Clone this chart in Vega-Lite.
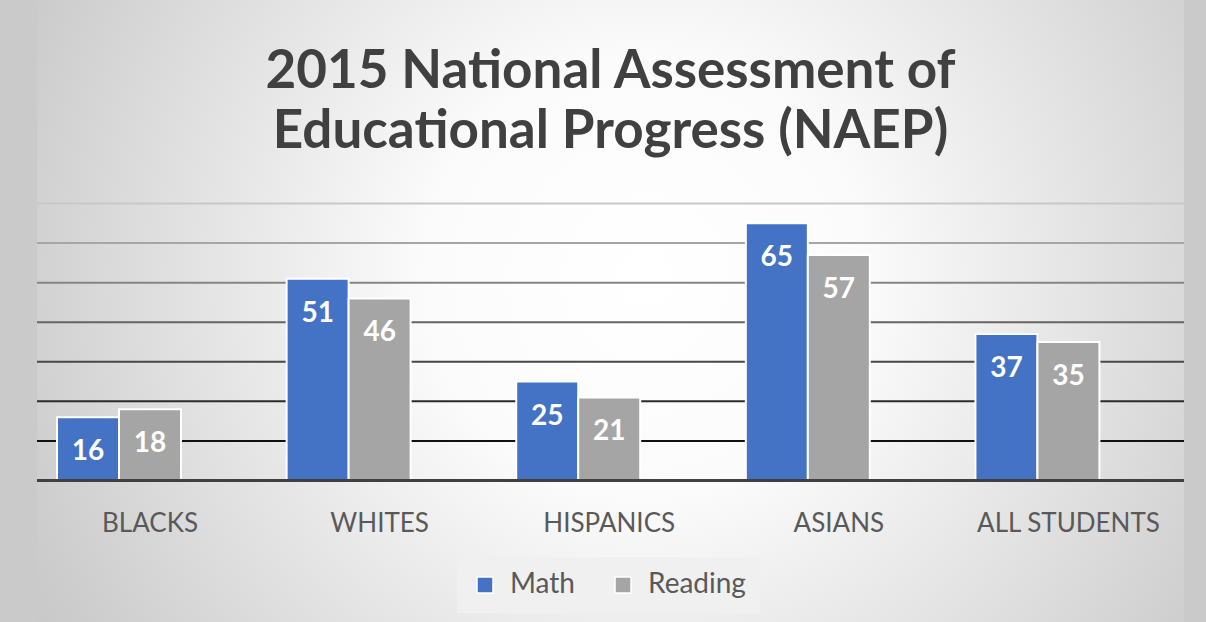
{
  "$schema": "https://vega.github.io/schema/vega-lite/v6.json",
  "width": 1147,
  "height": 622,
  "autosize": {"type": "none"},
  "padding": {"left": 37, "right": 22, "top": 0, "bottom": 0},
  "background": "#cacaca",
  "title": {
    "text": ["2015 National Assessment of", "Educational Progress (NAEP)"],
    "anchor": "middle",
    "frame": "group",
    "offset": -159,
    "font": "Lato",
    "fontSize": 53,
    "fontWeight": "bold",
    "color": "#404040",
    "lineHeight": 60
  },
  "datasets": {
    "scores": [
      {"group": "BLACKS", "subject": "Math", "value": 16},
      {"group": "BLACKS", "subject": "Reading", "value": 18},
      {"group": "WHITES", "subject": "Math", "value": 51},
      {"group": "WHITES", "subject": "Reading", "value": 46},
      {"group": "HISPANICS", "subject": "Math", "value": 25},
      {"group": "HISPANICS", "subject": "Reading", "value": 21},
      {"group": "ASIANS", "subject": "Math", "value": 65},
      {"group": "ASIANS", "subject": "Reading", "value": 57},
      {"group": "ALL STUDENTS", "subject": "Math", "value": 37},
      {"group": "ALL STUDENTS", "subject": "Reading", "value": 35}
    ],
    "grid": [{"g": 10}, {"g": 20}, {"g": 30}, {"g": 40}, {"g": 50}, {"g": 60}, {"g": 70}],
    "base": [{"g": 0}]
  },
  "layer": [
    {
      "data": {"name": "grid"},
      "mark": {"type": "rule", "strokeWidth": 2},
      "encoding": {
        "y": {"field": "g", "type": "quantitative", "axis": null, "scale": {"domain": [-35.76, 121.43], "nice": false, "zero": false}},
        "stroke": {"field": "g", "type": "quantitative", "legend": null, "scale": {"domain": [10, 70], "range": ["#111111", "#c8c8c8"]}}
      }
    },
    {
      "data": {"name": "scores"},
      "mark": {"type": "bar", "stroke": "white", "strokeWidth": 2},
      "encoding": {
        "x": {
          "field": "group", "type": "nominal", "sort": null,
          "scale": {"paddingInner": 0.19, "paddingOuter": 0.0928, "align": 0.47},
          "axis": {
            "orient": "bottom", "offset": -113, "domain": false, "ticks": false, "tickSize": 0,
            "labelPadding": 1, "title": null, "labelAngle": 0, "grid": false, "labelLimit": 0,
            "labelFont": "Lato", "labelFontSize": 26, "labelColor": "#595959"
          }
        },
        "xOffset": {"field": "subject", "type": "nominal", "scale": {"domain": ["Math", "Reading", "blank"], "paddingInner": 0, "paddingOuter": 0}},
        "y": {"field": "value", "type": "quantitative", "axis": null, "scale": {"domain": [-35.76, 121.43], "nice": false, "zero": false}},
        "color": {
          "field": "subject", "type": "nominal",
          "scale": {"domain": ["Math", "Reading"], "range": ["#4472c4", "#a5a5a5"]},
          "legend": {
            "title": null, "orient": "none", "direction": "horizontal",
            "legendX": 420, "legendY": 557,
            "fillColor": "#f0f0f0", "padding": 14,
            "symbolType": "square", "symbolSize": 256, "symbolStrokeColor": "white", "symbolStrokeWidth": 1.5,
            "labelFont": "Lato", "labelFontSize": 28, "labelColor": "#595959", "labelOffset": 11,
            "columnPadding": 34
          }
        }
      }
    },
    {
      "data": {"name": "scores"},
      "mark": {"type": "text", "font": "Lato", "fontSize": 28, "fontWeight": "bold", "color": "white", "baseline": "middle", "dy": 35},
      "encoding": {
        "x": {"field": "group", "type": "nominal", "sort": null},
        "xOffset": {"field": "subject", "type": "nominal", "scale": {"domain": ["Math", "Reading", "blank"], "paddingInner": 0, "paddingOuter": 0}},
        "y": {"field": "value", "type": "quantitative", "axis": null, "scale": {"domain": [-35.76, 121.43], "nice": false, "zero": false}},
        "text": {"field": "value", "type": "quantitative"}
      }
    },
    {
      "data": {"name": "base"},
      "mark": {"type": "rule", "strokeWidth": 3, "color": "#404040"},
      "encoding": {
        "y": {"field": "g", "type": "quantitative", "axis": null, "scale": {"domain": [-35.76, 121.43], "nice": false, "zero": false}}
      }
    }
  ],
  "config": {
    "view": {
      "stroke": null,
      "fill": {
        "gradient": "radial",
        "x1": 0.53, "y1": 0.47, "r1": 0,
        "x2": 0.53, "y2": 0.47, "r2": 0.64,
        "stops": [
          {"offset": 0, "color": "#ffffff"},
          {"offset": 0.3, "color": "#fbfbfb"},
          {"offset": 0.7, "color": "#dcdcdc"},
          {"offset": 0.9, "color": "#cccccc"},
          {"offset": 1, "color": "#c6c6c6"}
        ]
      }
    }
  }
}
